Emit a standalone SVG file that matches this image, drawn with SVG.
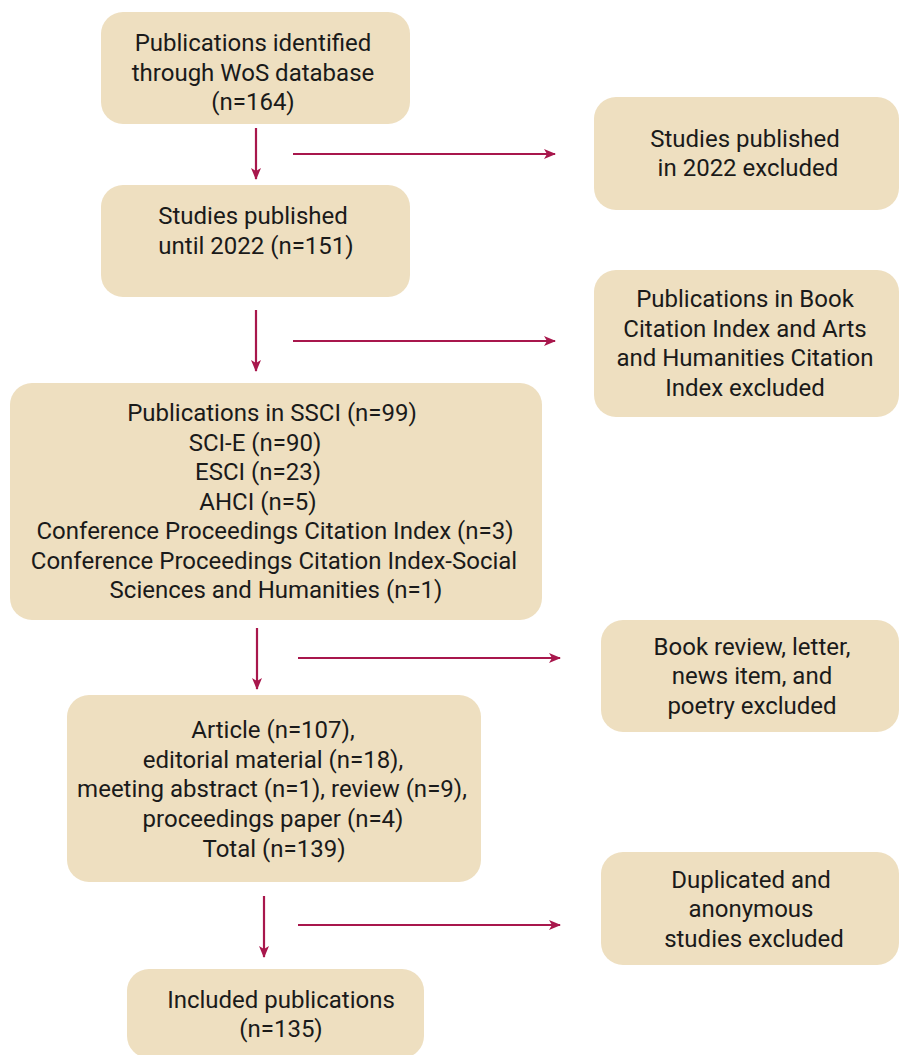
<svg xmlns="http://www.w3.org/2000/svg" width="899" height="1055" viewBox="0 0 899 1055">
<defs>
<style>
.box{fill:#EEDFC0;}
.t{font-family:Roboto,"Liberation Sans",sans-serif;font-size:24px;fill:#1a1a1a;text-anchor:middle;}
.c{stroke:#A8174C;stroke-width:2.2;fill:none;marker-end:url(#ah);}
</style>
<marker id="ah" viewBox="0 0 12 10" refX="11" refY="5" markerWidth="12" markerHeight="10" markerUnits="userSpaceOnUse" orient="auto">
<path d="M0,0 L12,5 L0,10 L3,5 Z" fill="#A8174C"/>
</marker>
</defs>
<rect width="899" height="1055" fill="#ffffff"/>
<g id="connectors">
<line class="c" x1="256" y1="128" x2="256" y2="179"/>
<line class="c" x1="293" y1="154" x2="555" y2="154"/>
<line class="c" x1="256" y1="310" x2="256" y2="371"/>
<line class="c" x1="293" y1="341" x2="555" y2="341"/>
<line class="c" x1="257" y1="628" x2="257" y2="689"/>
<line class="c" x1="298" y1="658" x2="560" y2="658"/>
<line class="c" x1="264" y1="896" x2="264" y2="957"/>
<line class="c" x1="298" y1="925" x2="560" y2="925"/>
</g>
<g id="n1">
<rect class="box" x="101" y="12" width="309" height="112" rx="22"/>
<text class="t" x="253" y="51">Publications identified</text>
<text class="t" x="253" y="81">through WoS database</text>
<text class="t" x="253" y="110">(n=164)</text>
</g>
<g id="e1">
<rect class="box" x="594" y="97" width="305" height="113" rx="22"/>
<text class="t" x="745" y="147">Studies published</text>
<text class="t" x="748" y="176">in 2022 excluded</text>
</g>
<g id="n2">
<rect class="box" x="101" y="185" width="309" height="112" rx="22"/>
<text class="t" x="253" y="224">Studies published</text>
<text class="t" x="256" y="254">until 2022 (n=151)</text>
</g>
<g id="e2">
<rect class="box" x="594" y="270" width="305" height="147" rx="22"/>
<text class="t" x="745" y="307">Publications in Book</text>
<text class="t" x="745" y="337">Citation Index and Arts</text>
<text class="t" x="745" y="366">and Humanities Citation</text>
<text class="t" x="745" y="396">Index excluded</text>
</g>
<g id="n3">
<rect class="box" x="10" y="383" width="532" height="237" rx="22"/>
<text class="t" x="272" y="421">Publications in SSCI (n=99)</text>
<text class="t" x="255" y="451">SCI-E (n=90)</text>
<text class="t" x="258" y="480">ESCI (n=23)</text>
<text class="t" x="258" y="510">AHCI (n=5)</text>
<text class="t" x="275" y="539">Conference Proceedings Citation Index (n=3)</text>
<text class="t" x="274" y="569">Conference Proceedings Citation Index-Social</text>
<text class="t" x="276" y="598">Sciences and Humanities (n=1)</text>
</g>
<g id="e3">
<rect class="box" x="601" y="620" width="298" height="112" rx="22"/>
<text class="t" x="752" y="655">Book review, letter,</text>
<text class="t" x="752" y="684">news item, and</text>
<text class="t" x="752" y="714">poetry excluded</text>
</g>
<g id="n4">
<rect class="box" x="67" y="695" width="414" height="187" rx="22"/>
<text class="t" x="273" y="738">Article (n=107),</text>
<text class="t" x="273" y="768">editorial material (n=18),</text>
<text class="t" x="272" y="797">meeting abstract (n=1), review (n=9),</text>
<text class="t" x="273" y="827">proceedings paper (n=4)</text>
<text class="t" x="274" y="857">Total (n=139)</text>
</g>
<g id="e4">
<rect class="box" x="601" y="852" width="298" height="113" rx="22"/>
<text class="t" x="751" y="888">Duplicated and</text>
<text class="t" x="751" y="917">anonymous</text>
<text class="t" x="754" y="947">studies excluded</text>
</g>
<g id="n5">
<rect class="box" x="127" y="969" width="297" height="89" rx="22"/>
<text class="t" x="281" y="1008">Included publications</text>
<text class="t" x="281" y="1037">(n=135)</text>
</g>
</svg>
